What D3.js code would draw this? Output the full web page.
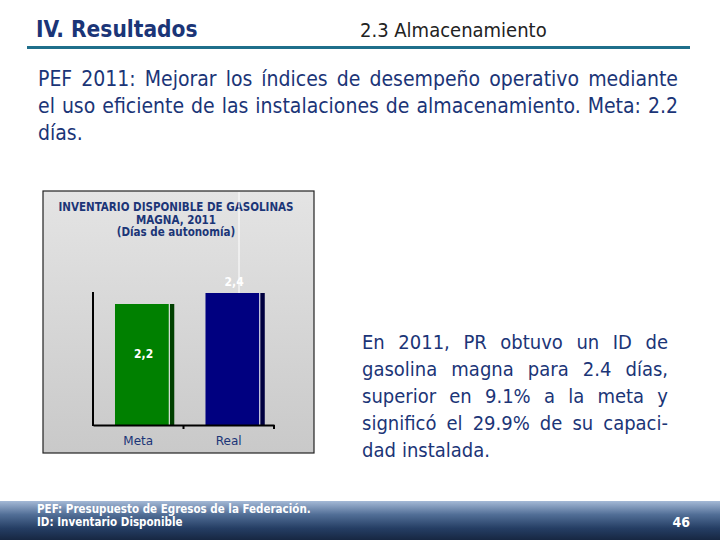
<!DOCTYPE html>
<html>
<head>
<meta charset="utf-8">
<title>Almacenamiento</title>
<script src="https://cdn.jsdelivr.net/npm/d3@7"></script>
<style>
  body { margin: 0; background: #fff; }
  svg { display: block; }
</style>
</head>
<body>
<div id="slide"></div>
<script>
// chart data
var categories = ["Meta", "Real"];
var values = [2.2, 2.4];
var valueLabels = ["2,2", "2,4"];
var chartTitle = ["INVENTARIO DISPONIBLE DE GASOLINAS", "MAGNA, 2011", "(Días de autonomía)"];

// slide texts
var introLines = [
	"PEF 2011: Mejorar los índices de desempeño operativo mediante",
	"el uso eficiente de las instalaciones de almacenamiento. Meta: 2.2",
	"días."
];
var noteLines = [
	"En 2011, PR obtuvo un ID de",
	"gasolina magna para 2.4 días,",
	"superior en 9.1% a la meta y",
	"significó el 29.9% de su capaci-",
	"dad instalada."
];
var footLines = ["PEF: Presupuesto de Egresos de la Federación.", "ID: Inventario Disponible"];

var W = 720, H = 540;
var navy = "#1b3577";
var font = "'DejaVu Sans Condensed', 'DejaVu Sans', sans-serif";

var svg = d3.select("#slide").append("svg")
	.attr("width", W)
	.attr("height", H);

var defs = svg.append("defs");
var bg = defs.append("linearGradient").attr("id", "chartBg")
	.attr("x1", 0).attr("y1", 0).attr("x2", 0).attr("y2", 1);
bg.append("stop").attr("offset", 0).attr("stop-color", "#e4e4e4");
bg.append("stop").attr("offset", 1).attr("stop-color", "#c9c9c9");

var foot = defs.append("linearGradient").attr("id", "footBg")
	.attr("x1", 0).attr("y1", 0).attr("x2", 0).attr("y2", 1);
foot.append("stop").attr("offset", 0).attr("stop-color", "#a4b9d6");
foot.append("stop").attr("offset", 0.35).attr("stop-color", "#516e96");
foot.append("stop").attr("offset", 0.7).attr("stop-color", "#253e64");
foot.append("stop").attr("offset", 1).attr("stop-color", "#172742");

// header
svg.append("text")
	.attr("x", 36).attr("y", 37)
	.style("font-family", font).style("font-weight", "bold")
	.style("font-size", "22.5px").style("fill", navy)
	.text("IV. Resultados");
svg.append("text")
	.attr("x", 360).attr("y", 37)
	.style("font-family", font)
	.style("font-size", "20px").style("fill", "#222")
	.text("2.3 Almacenamiento");
svg.append("rect")
	.attr("x", 27).attr("y", 46).attr("width", 663).attr("height", 3)
	.style("fill", "#1f6f8b");

// justified text, word by word
function justify(lines, x0, x1, y0, lh, size) {
	var g = svg.append("g")
		.style("font-family", font)
		.style("font-size", size + "px")
		.style("fill", navy);
	lines.forEach(function(line, i) {
		var words = line.split(" ");
		var y = y0 + i * lh;
		var nodes = words.map(function(w) {
			return g.append("text").attr("y", y).text(w);
		});
		var widths = nodes.map(function(n) { return n.node().getComputedTextLength(); });
		var total = d3.sum(widths);
		var last = i == lines.length - 1;
		var gap = (last || words.length < 2) ? size * 0.3 : (x1 - x0 - total) / (words.length - 1);
		var x = x0;
		nodes.forEach(function(n, j) {
			n.attr("x", x);
			x += widths[j] + gap;
		});
	});
}
justify(introLines, 38, 678, 86, 27, 21);
justify(noteLines, 362, 668, 349, 27, 20);

// chart box
var box = { x: 43, y: 191, w: 271, h: 262 };
svg.append("rect")
	.attr("x", box.x).attr("y", box.y).attr("width", box.w).attr("height", box.h)
	.style("fill", "url(#chartBg)")
	.style("stroke", "#222").style("stroke-width", 1.2);

svg.append("g").selectAll("text")
	.data(chartTitle)
	.enter()
	.append("text")
	.attr("x", 176)
	.attr("y", function(d, i) { return 211 + i * 12.5; })
	.attr("text-anchor", "middle")
	.style("font-family", font).style("font-weight", "bold")
	.style("font-size", "11.5px").style("fill", navy)
	.text(function(d) { return d; });

var x = d3.scaleBand().domain(categories).range([93, 274]);
var y = d3.scaleLinear().domain([0, 2.4]).range([425, 293]);
var bw = x.bandwidth();
var face = ["#008000", "#000080"];
var side = ["#004000", "#000040"];

// stray white line above the Real bar
svg.append("line")
	.attr("x1", 239).attr("x2", 239)
	.attr("y1", box.y + 1).attr("y2", y(values[1]))
	.style("stroke", "#fff").style("stroke-width", 1);

var bars = svg.selectAll("g.bar")
	.data(values)
	.enter()
	.append("g")
	.attr("class", "bar");
bars.append("rect")
	.attr("x", function(d, i) { return x(categories[i]) + bw * 0.243; })
	.attr("y", function(d) { return y(d); })
	.attr("width", bw * 0.6)
	.attr("height", function(d) { return y(0) - y(d); })
	.style("fill", function(d, i) { return face[i]; });
bars.append("rect")
	.attr("x", function(d, i) { return x(categories[i]) + bw * 0.843; })
	.attr("y", function(d) { return y(d); })
	.attr("width", bw * 0.055)
	.attr("height", function(d) { return y(0) - y(d); })
	.style("fill", function(d, i) { return side[i]; });
bars.append("line")
	.attr("x1", function(d, i) { return x(categories[i]) + bw * 0.843; })
	.attr("x2", function(d, i) { return x(categories[i]) + bw * 0.843; })
	.attr("y1", function(d) { return y(d); })
	.attr("y2", y(0))
	.style("stroke", "#fff").style("stroke-width", 1);

// value labels: inside for Meta, above for Real
bars.append("text")
	.attr("x", function(d, i) { return x(categories[i]) + bw * 0.56; })
	.attr("y", function(d, i) { return i == 0 ? (y(d) + y(0)) / 2 - 7 : y(d) - 7; })
	.attr("text-anchor", "middle")
	.style("font-family", font).style("font-weight", "bold")
	.style("font-size", "12px").style("fill", "#fff")
	.text(function(d, i) { return valueLabels[i]; });

// axes
var xAxis = svg.append("g")
	.attr("transform", "translate(0," + y(0) + ")")
	.call(d3.axisBottom(x).tickSize(0).tickPadding(11));
xAxis.select(".domain").style("stroke", "#000").style("stroke-width", 2);
xAxis.selectAll("text")
	.style("font-family", "'DejaVu Sans', sans-serif")
	.style("font-size", "12px").style("fill", navy);
svg.append("g").selectAll("line")
	.data(categories)
	.enter()
	.append("line")
	.attr("x1", function(d) { return x(d) + bw; })
	.attr("x2", function(d) { return x(d) + bw; })
	.attr("y1", y(0)).attr("y2", y(0) + 4)
	.style("stroke", "#000").style("stroke-width", 2);

var yAxis = svg.append("g")
	.attr("transform", "translate(93,0)")
	.call(d3.axisLeft(y).tickValues([]).tickSizeOuter(0));
yAxis.select(".domain").style("stroke", "#000").style("stroke-width", 2)
	.attr("d", "M0," + (y(0) + 1) + "V292");

// footer
svg.append("rect")
	.attr("x", 0).attr("y", 501).attr("width", W).attr("height", 39)
	.style("fill", "url(#footBg)");
svg.append("g").selectAll("text")
	.data(footLines)
	.enter()
	.append("text")
	.attr("x", 37)
	.attr("y", function(d, i) { return 513 + i * 13; })
	.style("font-family", font).style("font-weight", "bold")
	.style("font-size", "11.5px").style("fill", "#fff")
	.text(function(d) { return d; });
svg.append("text")
	.attr("x", 690).attr("y", 527)
	.attr("text-anchor", "end")
	.style("font-family", font).style("font-weight", "bold")
	.style("font-size", "14px").style("fill", "#fff")
	.text("46");
</script>
</body>
</html>
